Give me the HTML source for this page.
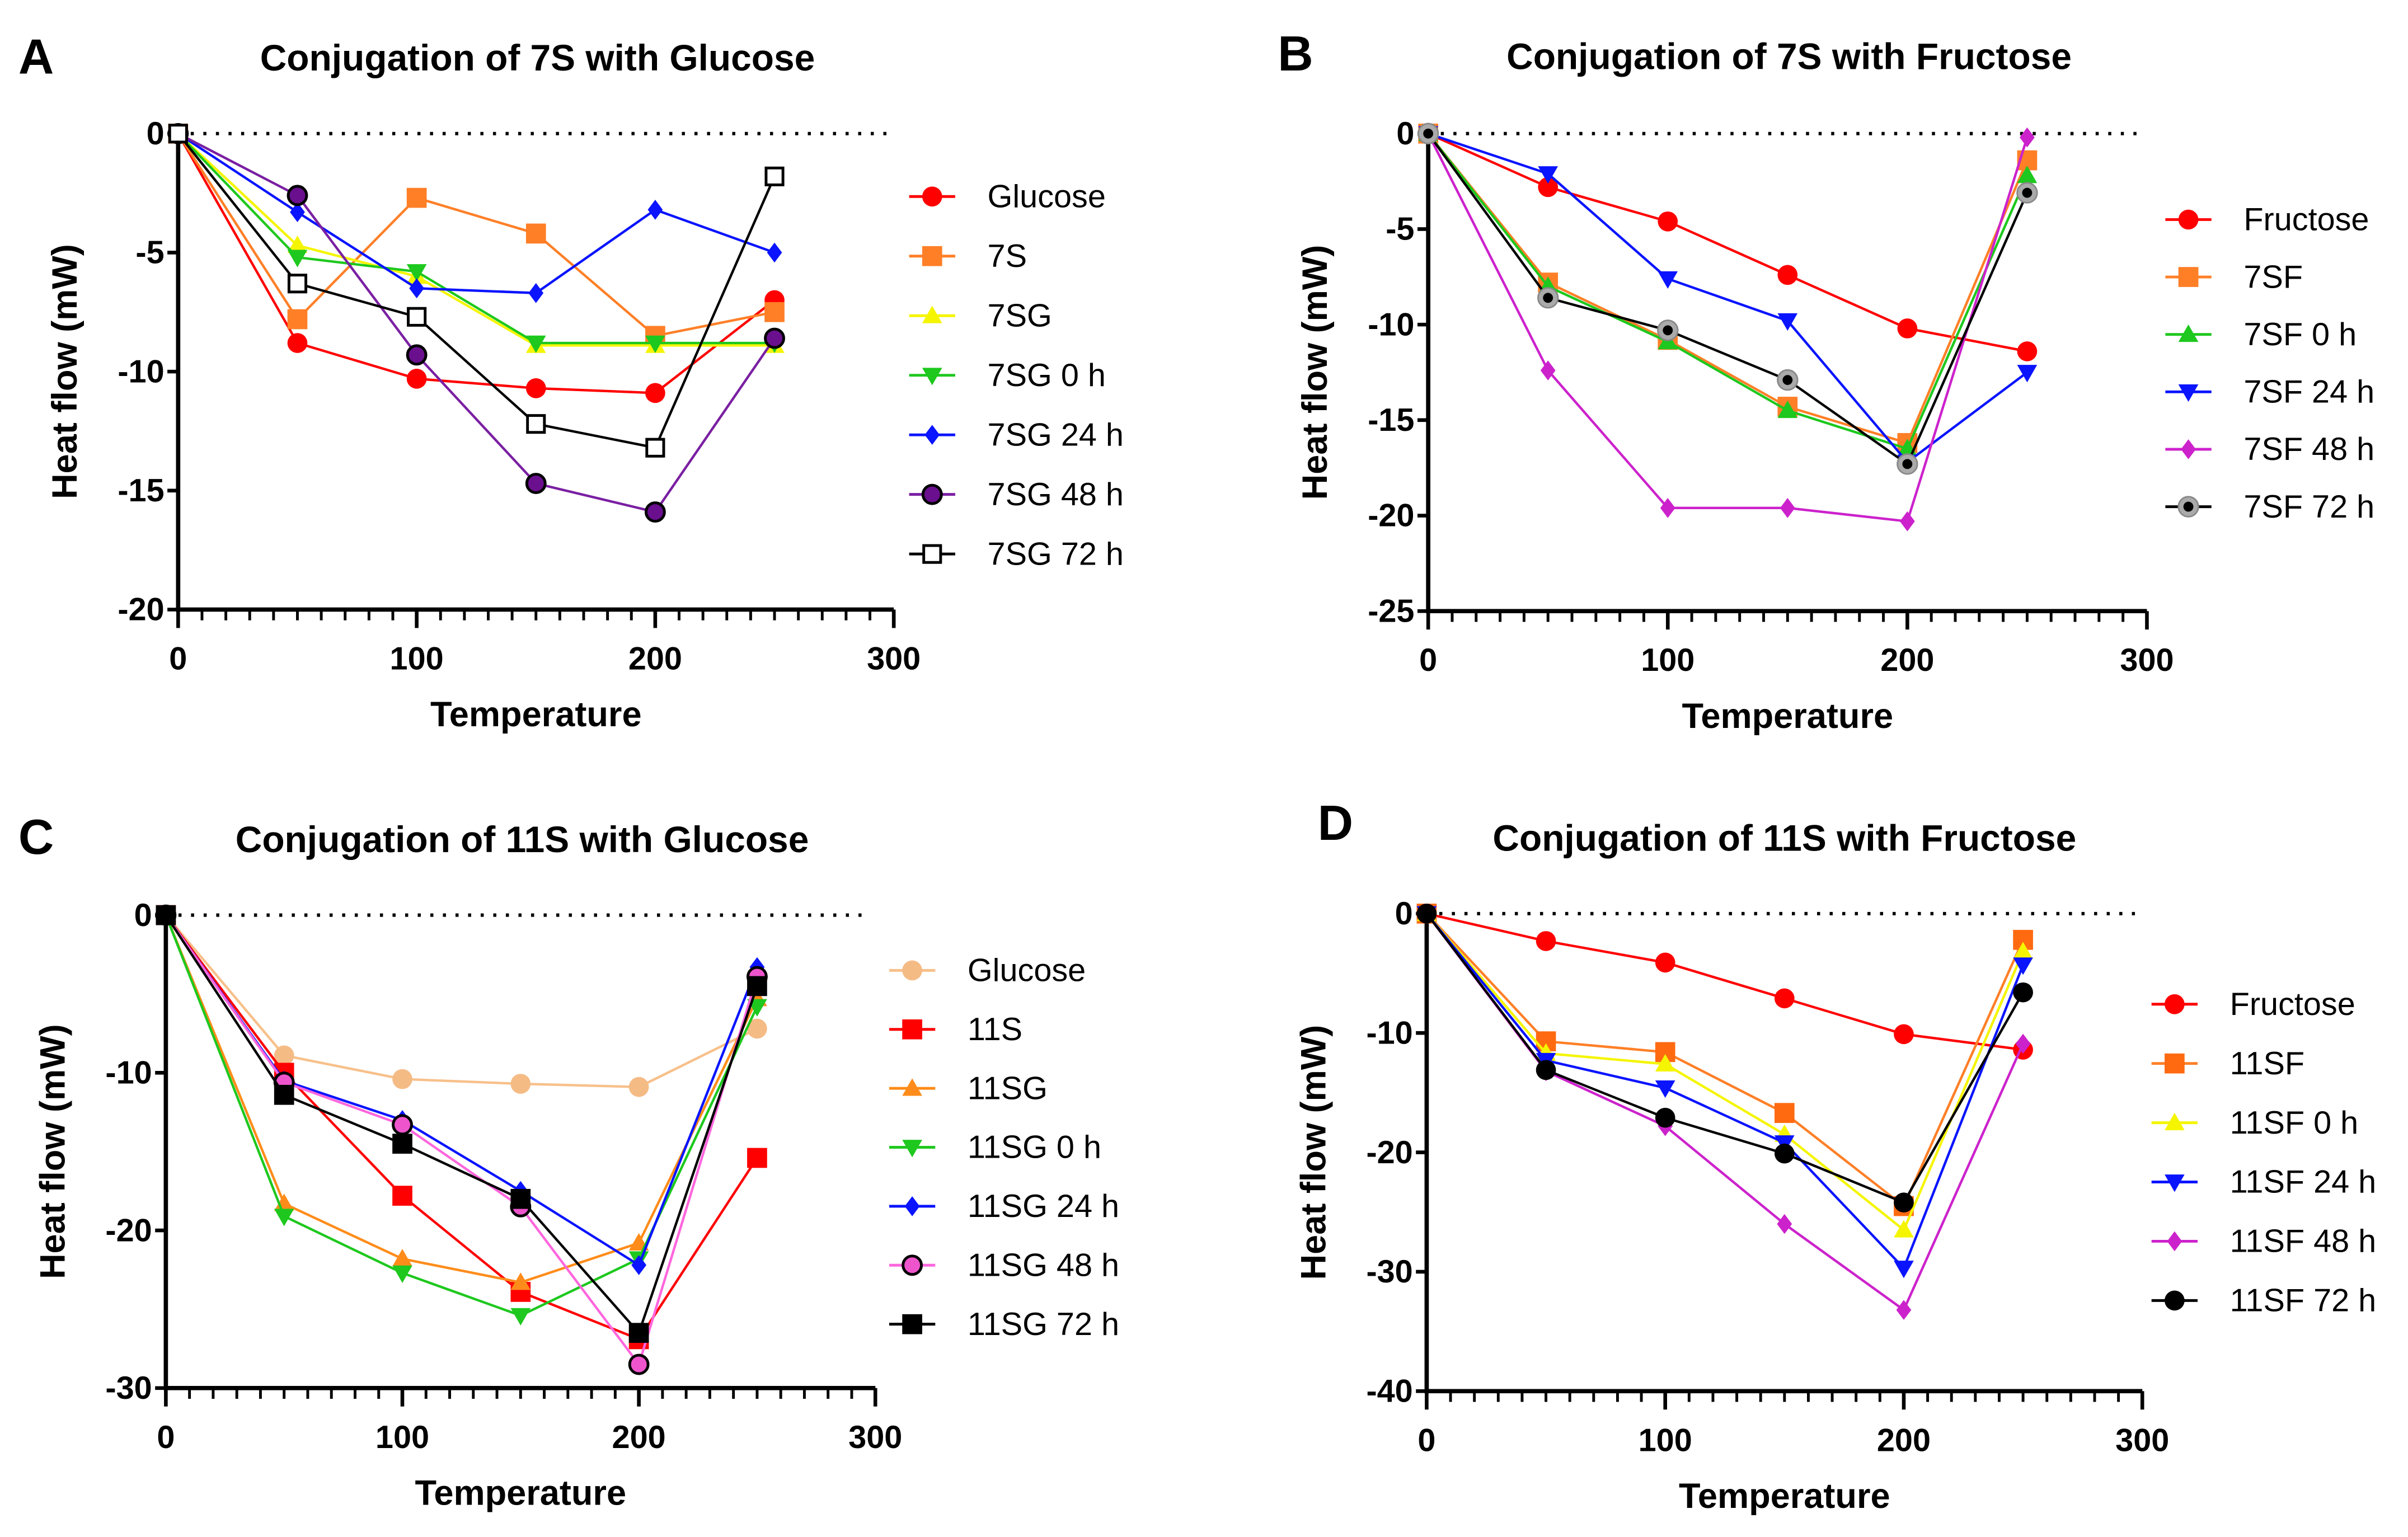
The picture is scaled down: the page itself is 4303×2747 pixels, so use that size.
<!DOCTYPE html>
<html><head><meta charset="utf-8"><style>
html,body{margin:0;padding:0;background:#fff;}
svg{display:block;}
text{font-family:"Liberation Sans Narrow","Liberation Sans",sans-serif;}
</style></head><body>
<svg id="fig" width="4303" height="2747" viewBox="0 0 1568 1001" preserveAspectRatio="none" xmlns="http://www.w3.org/2000/svg"></svg>
<script>
const temps = [0,50,100,150,200,250];
const xTicks = [0,100,200,300];
// Panel A
const aNames = ["Glucose","7S","7SG","7SG 0 h","7SG 24 h","7SG 48 h","7SG 72 h"];
const aGlucose = [0,-8.8,-10.3,-10.7,-10.9,-7.0];
const a7S = [0,-7.8,-2.7,-4.2,-8.5,-7.5];
const a7SG = [0,-4.7,-6.0,-8.9,-8.9,-8.9];
const a7SG0 = [0,-5.2,-5.8,-8.8,-8.8,-8.8];
const a7SG24 = [0,-3.3,-6.5,-6.7,-3.2,-5.0];
const a7SG48 = [0,-2.6,-9.3,-14.7,-15.9,-8.6];
const a7SG72 = [0,-6.3,-7.7,-12.2,-13.2,-1.8];
const aYTicks = [0,-5,-10,-15,-20];
// Panel B
const bNames = ["Fructose","7SF","7SF 0 h","7SF 24 h","7SF 48 h","7SF 72 h"];
const bFructose = [0,-2.8,-4.6,-7.4,-10.2,-11.4];
const b7SF = [0,-7.8,-10.8,-14.3,-16.2,-1.4];
const b7SF0 = [0,-8.0,-10.9,-14.5,-16.5,-2.2];
const b7SF24 = [0,-2.1,-7.6,-9.8,-17.2,-12.5];
const b7SF48 = [0,-12.4,-19.6,-19.6,-20.3,-0.2];
const b7SF72 = [0,-8.6,-10.3,-12.9,-17.3,-3.1];
const bYTicks = [0,-5,-10,-15,-20,-25];
// Panel C
const cNames = ["Glucose","11S","11SG","11SG 0 h","11SG 24 h","11SG 48 h","11SG 72 h"];
const cGlucose = [0,-8.9,-10.4,-10.7,-10.9,-7.2];
const c11S = [0,-10.0,-17.8,-23.9,-26.9,-15.4];
const c11SG = [0,-18.3,-21.8,-23.3,-20.8,-5.3];
const c11SG0 = [0,-19.1,-22.7,-25.4,-21.8,-5.8];
const c11SG24 = [0,-10.5,-13.0,-17.5,-22.2,-3.3];
const c11SG48 = [0,-10.6,-13.3,-18.5,-28.5,-3.9];
const c11SG72 = [0,-11.4,-14.5,-18.0,-26.5,-4.5];
const cYTicks = [0,-10,-20,-30];
// Panel D
const dNames = ["Fructose","11SF","11SF 0 h","11SF 24 h","11SF 48 h","11SF 72 h"];
const dFructose = [0,-2.3,-4.1,-7.1,-10.1,-11.4];
const d11SF = [0,-10.7,-11.6,-16.7,-24.5,-2.2];
const d11SF0 = [0,-11.7,-12.6,-18.5,-26.5,-3.2];
const d11SF24 = [0,-12.3,-14.6,-19.2,-29.7,-4.3];
const d11SF48 = [0,-13.2,-17.8,-26.0,-33.2,-10.9];
const d11SF72 = [0,-13.1,-17.1,-20.1,-24.2,-6.6];
const dYTicks = [0,-10,-20,-30,-40];

const NS="http://www.w3.org/2000/svg";
const svg=document.getElementById('fig');
function mk(tag,attrs,parent){const e=document.createElementNS(NS,tag);for(const k in attrs)e.setAttribute(k,attrs[k]);(parent||svg).appendChild(e);return e;}

function marker(g,shape,x,y,fill,stroke,r){
  let e;
  if(shape==='circle'){e=mk('circle',{cx:x,cy:y,r:r,fill:fill,stroke:stroke,'stroke-width':stroke==='none'?0:1.8},g);}
  else if(shape==='ring'){e=mk('circle',{cx:x,cy:y,r:r,fill:'#aaa',stroke:'#888','stroke-width':1},g);mk('circle',{cx:x,cy:y,r:r*0.5,fill:'#000'},g);}
  else if(shape==='square'){e=mk('rect',{x:x-r,y:y-r,width:2*r,height:2*r,fill:fill,stroke:stroke,'stroke-width':stroke==='none'?0:1.8},g);}
  else if(shape==='up'){e=mk('polygon',{points:`${x},${y-r} ${x-r},${y+r*0.75} ${x+r},${y+r*0.75}`,fill:fill},g);}
  else if(shape==='down'){e=mk('polygon',{points:`${x},${y+r} ${x-r},${y-r*0.75} ${x+r},${y-r*0.75}`,fill:fill},g);}
  else if(shape==='diamond'){e=mk('polygon',{points:`${x},${y-r} ${x+r*0.75},${y} ${x},${y+r} ${x-r*0.75},${y}`,fill:fill},g);}
  return e;
}

function panel(cfg){
  const g=mk('g',{});
  
  
  const X=v=>cfg.x0+(v-0)/300*(cfg.x300-cfg.x0);
  const Y=v=>cfg.y0+(v/cfg.ymin)*(cfg.ybot-cfg.y0);
  const L=mk('text',{x:cfg.letterX,y:cfg.letterY,'font-size':32,'font-weight':'bold','font-family':'Liberation Sans'},g);L.textContent=cfg.letter;
  
  
  const T=mk('text',{x:cfg.titleX,y:cfg.titleY,'font-size':24,'font-weight':'bold','text-anchor':'middle'},g);T.textContent=cfg.title;
  
  
  const zl=mk('line',{x1:cfg.x0,x2:cfg.x300-4,y1:cfg.y0,y2:cfg.y0,stroke:'#000','stroke-width':2.2,'stroke-dasharray':'2 6.2'},g);
  
  
  const ax=mk('path',{d:`M${cfg.x0},${cfg.y0-2} V${cfg.ybot} H${cfg.x300}`,fill:'none',stroke:'#000','stroke-width':2.8},g);
  
  
  for(let v=0;v<=300;v+=10){
    const major=v%100===0;
    mk('line',{x1:X(v),x2:X(v),y1:cfg.ybot,y2:cfg.ybot+(major?12:7),stroke:'#000','stroke-width':major?2.4:1.8},g);
  }
  xTicks.forEach(v=>{const t=mk('text',{x:X(v),y:cfg.ybot+39,'font-size':21,'font-weight':'bold','text-anchor':'middle'},g);t.textContent=v;
    
    });
  cfg.yticks.forEach(v=>{
    mk('line',{x1:cfg.x0-7,x2:cfg.x0,y1:Y(v),y2:Y(v),stroke:'#000','stroke-width':2.4},g);
    const t=mk('text',{x:cfg.x0-9,y:Y(v)+7,'font-size':21,'font-weight':'bold','text-anchor':'end'},g);t.textContent=v;
    
    
  });
  const xt=mk('text',{x:(cfg.x0+cfg.x300)/2,y:cfg.ybot+76,'font-size':23,'font-weight':'bold','text-anchor':'middle'},g);xt.textContent='Temperature';
  
  
  const yc=(cfg.y0+cfg.ybot)/2;
  const yt=mk('text',{x:cfg.ylabX,y:yc,'font-size':23,'font-weight':'bold','text-anchor':'middle','font-family':'Liberation Sans',transform:`rotate(-90 ${cfg.ylabX} ${yc})`},g);yt.textContent='Heat flow (mW)';
  
  
  cfg.series.forEach((s,i)=>{
    const sg=mk('g',{},g);
    
    
    const pts=temps.map((t,j)=>X(t)+','+Y(s.vals[j])).join(' ');
    mk('polyline',{points:pts,fill:'none',stroke:s.color,'stroke-width':1.6},sg);
    temps.forEach((t,j)=>{const m=marker(sg,s.shape,X(t),Y(s.vals[j]),s.fill,s.stroke,s.r||6.5);
      if(m){
      }});
    const ly=cfg.legY+i*cfg.legDy;
    const lg=mk('g',{},g);
    
    
    mk('line',{x1:cfg.legX-15,x2:cfg.legX+15,y1:ly,y2:ly,stroke:s.color,'stroke-width':1.8},lg);
    marker(lg,s.shape,cfg.legX,ly,s.fill,s.stroke,s.r||6.5);
    const lt=mk('text',{x:cfg.legX+36,y:ly+7,'font-size':21},lg);lt.textContent=s.name;
  });
}

const RED='#ff0000',YEL='#f5f500',GRN='#1ec81e',BLU='#0a14ff',PUR='#7a1fa2',MAG='#cc22cc';
panel({id:'a',letter:'A',letterX:12,letterY:48,title:'Conjugation of 7S with Glucose',titleX:350,titleY:46,
  x0:116,x300:582,y0:87,ybot:397,ymin:-20,yticks:aYTicks,ylabX:50,legX:607,legY:128,legDy:38.8,
  series:[
   {name:aNames[0],vals:aGlucose,color:RED,fill:RED,stroke:'none',shape:'circle'},
   {name:aNames[1],vals:a7S,color:'#ff7f27',fill:'#ff7f27',stroke:'none',shape:'square'},
   {name:aNames[2],vals:a7SG,color:YEL,fill:YEL,stroke:'none',shape:'up'},
   {name:aNames[3],vals:a7SG0,color:GRN,fill:GRN,stroke:'none',shape:'down'},
   {name:aNames[4],vals:a7SG24,color:BLU,fill:BLU,stroke:'none',shape:'diamond'},
   {name:aNames[5],vals:a7SG48,color:PUR,fill:'#6a0f8e',stroke:'#000',shape:'circle',r:6},
   {name:aNames[6],vals:a7SG72,color:'#000',fill:'#fff',stroke:'#000',shape:'square',r:5.5}
  ]});
panel({id:'b',letter:'B',letterX:832,letterY:46,title:'Conjugation of 7S with Fructose',titleX:1165,titleY:45,
  x0:930,x300:1398,y0:87,ybot:398,ymin:-25,yticks:bYTicks,ylabX:864,legX:1425,legY:143,legDy:37.4,
  series:[
   {name:bNames[0],vals:bFructose,color:RED,fill:RED,stroke:'none',shape:'circle'},
   {name:bNames[1],vals:b7SF,color:'#ff7f27',fill:'#ff7f27',stroke:'none',shape:'square'},
   {name:bNames[2],vals:b7SF0,color:GRN,fill:GRN,stroke:'none',shape:'up'},
   {name:bNames[3],vals:b7SF24,color:BLU,fill:BLU,stroke:'none',shape:'down'},
   {name:bNames[4],vals:b7SF48,color:MAG,fill:MAG,stroke:'none',shape:'diamond'},
   {name:bNames[5],vals:b7SF72,color:'#000',fill:'#aaa',stroke:'none',shape:'ring'}
  ]});
panel({id:'c',letter:'C',letterX:12,letterY:556,title:'Conjugation of 11S with Glucose',titleX:340,titleY:555,
  x0:108,x300:570,y0:596,ybot:904,ymin:-30,yticks:cYTicks,ylabX:42,legX:594,legY:632,legDy:38.4,
  series:[
   {name:cNames[0],vals:cGlucose,color:'#f7c08a',fill:'#f5bb85',stroke:'none',shape:'circle'},
   {name:cNames[1],vals:c11S,color:RED,fill:RED,stroke:'none',shape:'square'},
   {name:cNames[2],vals:c11SG,color:'#ff8c1a',fill:'#ff8c1a',stroke:'none',shape:'up'},
   {name:cNames[3],vals:c11SG0,color:GRN,fill:GRN,stroke:'none',shape:'down'},
   {name:cNames[4],vals:c11SG24,color:BLU,fill:BLU,stroke:'none',shape:'diamond'},
   {name:cNames[5],vals:c11SG48,color:'#ff66dd',fill:'#ee55cc',stroke:'#000',shape:'circle',r:6},
   {name:cNames[6],vals:c11SG72,color:'#000',fill:'#000',stroke:'none',shape:'square'}
  ]});
panel({id:'d',letter:'D',letterX:858,letterY:547,title:'Conjugation of 11S with Fructose',titleX:1162,titleY:554,
  x0:929,x300:1395,y0:595,ybot:906,ymin:-40,yticks:dYTicks,ylabX:863,legX:1416,legY:654,legDy:38.6,
  series:[
   {name:dNames[0],vals:dFructose,color:RED,fill:RED,stroke:'none',shape:'circle'},
   {name:dNames[1],vals:d11SF,color:'#ff7f27',fill:'#ff6a10',stroke:'none',shape:'square'},
   {name:dNames[2],vals:d11SF0,color:YEL,fill:YEL,stroke:'none',shape:'up'},
   {name:dNames[3],vals:d11SF24,color:BLU,fill:BLU,stroke:'none',shape:'down'},
   {name:dNames[4],vals:d11SF48,color:MAG,fill:MAG,stroke:'none',shape:'diamond'},
   {name:dNames[5],vals:d11SF72,color:'#000',fill:'#000',stroke:'none',shape:'circle'}
  ]});
</script>
</body></html>
